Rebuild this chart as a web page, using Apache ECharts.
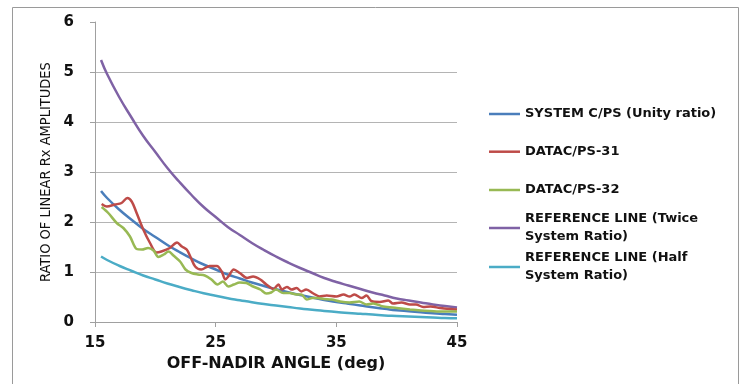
<!DOCTYPE html>
<html>
<head>
<meta charset="utf-8">
<script src="https://cdn.jsdelivr.net/npm/echarts@6/dist/echarts.min.js"></script>
<style>html,body{margin:0;padding:0;background:#fff;}#c{width:747px;height:384px;}</style>
</head>
<body>
<div id="c"></div>
<script>
const angles = [15.5,16,17,18,19,20,21,22,23,24,25,26,27,28,29,30,31,32,33,34,35,36,37,38,39,40,41,42,43,44,45];
const systemRatio = [2.62,2.48,2.25,2.05,1.86,1.70,1.54,1.40,1.27,1.15,1.05,0.95,0.87,0.79,0.72,0.655,0.595,0.54,0.49,0.44,0.40,0.365,0.33,0.295,0.265,0.235,0.215,0.195,0.175,0.16,0.145];
const twiceRatio = [5.24,4.96,4.50,4.10,3.72,3.40,3.08,2.80,2.54,2.30,2.10,1.90,1.74,1.58,1.44,1.31,1.19,1.08,0.98,0.88,0.80,0.73,0.66,0.59,0.53,0.47,0.43,0.39,0.35,0.32,0.29];
const halfRatio = [1.31,1.24,1.125,1.025,0.93,0.85,0.77,0.70,0.635,0.575,0.525,0.475,0.435,0.395,0.36,0.33,0.30,0.27,0.245,0.22,0.20,0.18,0.165,0.15,0.13,0.12,0.11,0.10,0.09,0.08,0.075];
const ps31Angles = [15.55,15.97,16.66,17.2,17.68,18.04,18.45,19.0,19.56,20.1,20.5,21.2,21.8,22.2,22.6,22.9,23.3,23.8,24.5,25.1,25.5,25.8,26.05,26.5,27.0,27.6,28.1,28.7,29.2,29.8,30.2,30.5,30.9,31.3,31.7,32.1,32.5,33.1,33.6,34.2,35.0,35.6,36.1,36.5,37.1,37.5,37.9,38.6,39.3,39.7,40.4,41.1,41.6,42.2,42.8,43.6,44.4,45];
const ps31Ratio = [2.36,2.31,2.35,2.38,2.48,2.41,2.18,1.85,1.58,1.39,1.41,1.48,1.59,1.51,1.45,1.31,1.11,1.05,1.12,1.12,1.01,0.85,0.91,1.05,0.98,0.88,0.91,0.85,0.75,0.66,0.75,0.65,0.70,0.65,0.68,0.61,0.65,0.57,0.51,0.53,0.51,0.55,0.51,0.55,0.48,0.53,0.42,0.40,0.43,0.37,0.39,0.35,0.35,0.30,0.31,0.28,0.26,0.25];
const ps32Angles = [15.55,16.1,16.8,17.35,17.9,18.45,18.9,19.4,19.85,20.25,20.7,21.1,21.5,22.05,22.5,23.0,23.55,24.1,24.65,25.15,25.6,26.05,26.5,27.0,27.55,28.1,28.7,29.2,29.6,30.0,30.6,31.15,31.7,32.1,32.55,33.0,33.4,33.95,34.6,35.3,36.1,36.9,37.5,38.05,38.9,40.0,41.1,42.0,42.8,43.9,45];
const ps32Ratio = [2.30,2.18,1.98,1.88,1.71,1.46,1.45,1.48,1.43,1.30,1.35,1.41,1.33,1.21,1.05,0.98,0.95,0.93,0.85,0.75,0.81,0.71,0.75,0.79,0.78,0.71,0.65,0.57,0.59,0.65,0.58,0.58,0.55,0.55,0.45,0.48,0.48,0.46,0.45,0.41,0.39,0.41,0.35,0.37,0.31,0.28,0.25,0.23,0.22,0.21,0.21];
const seriesNames = ['SYSTEM C/PS (Unity ratio)','DATAC/PS-31','DATAC/PS-32','REFERENCE LINE (Twice System Ratio)','REFERENCE LINE (Half System Ratio)'];
const legendLabels = ['SYSTEM C/PS (Unity ratio)','DATAC/PS-31','DATAC/PS-32','REFERENCE LINE (Twice\nSystem Ratio)','REFERENCE LINE (Half\nSystem Ratio)'];
const colors = ['#4a7ebb','#be4b48','#98b954','#7f62a5','#4bacc6'];

function pairs(xs, ys){ return xs.map((x,i)=>[x, ys[i]]); }

const chart = echarts.init(document.getElementById('c'), null, {renderer:'canvas'});
const font = 'DejaVu Sans';
const legendTops = [105, 142.7, 181, 201, 240];
const legends = seriesNames.map((n,i)=>{
  const two = legendLabels[i].indexOf('\n') >= 0;
  return {
    left: 489, top: legendTops[i], padding: 0, orient: 'vertical',
    itemWidth: 31, itemHeight: 2.5, itemGap: 0, icon: 'rect',
    data: [n], selectedMode: false,
    formatter: () => legendLabels[i],
    textStyle: {fontFamily: font, fontWeight: 'bold', fontSize: 13, color: '#111', lineHeight: 18, padding: two ? [18,0,0,0] : 0}
  };
});
const lineData = [pairs(angles, systemRatio), pairs(ps31Angles, ps31Ratio), pairs(ps32Angles, ps32Ratio), pairs(angles, twiceRatio), pairs(angles, halfRatio)];
chart.setOption({
  animation: false,
  color: colors,
  grid: {left: 95, right: 290, top: 22, bottom: 62, containLabel: false},
  graphic: [{type:'rect', shape:{x:12.5, y:7.5, width:726, height:400}, style:{fill:'none', stroke:'#9a9a9a', lineWidth:1}, silent:true}],
  legend: legends,
  xAxis: {
    type: 'value', min: 15, max: 45, interval: 10,
    name: 'OFF-NADIR ANGLE (deg)', nameLocation: 'middle', nameGap: 33,
    nameTextStyle: {fontFamily: font, fontWeight: 'bold', fontSize: 16, color: '#111'},
    axisLine: {lineStyle: {color: '#a0a0a0', width: 1}},
    axisTick: {show: true, length: 5, lineStyle: {color: '#a0a0a0'}},
    axisLabel: {margin: 14, fontFamily: font, fontWeight: 'bold', fontSize: 15, color: '#111'},
    splitLine: {show: false}
  },
  yAxis: {
    type: 'value', min: 0, max: 6, interval: 1,
    name: 'RATIO OF LINEAR Rx AMPLITUDES', nameLocation: 'middle', nameGap: 41, nameRotate: 90,
    nameTextStyle: {fontFamily: 'Liberation Sans Narrow, DejaVu Sans Condensed, Liberation Sans', fontWeight: 'normal', fontSize: 14.5, color: '#111'},
    axisLine: {show: true, lineStyle: {color: '#a0a0a0', width: 1}},
    axisTick: {show: true, length: 5, lineStyle: {color: '#a0a0a0'}},
    axisLabel: {margin: 21, fontFamily: font, fontWeight: 'bold', fontSize: 15, color: '#111'},
    splitLine: {show: true, lineStyle: {color: ['#b4b4b4','#b4b4b4','#b4b4b4','#b4b4b4','#b4b4b4','#b4b4b4','rgba(0,0,0,0)'], width: 1}}
  },
  series: seriesNames.map((n,i)=>({
    name: n, type: 'line', data: lineData[i], symbol: 'none',
    smooth: (i===1||i===2) ? 0.3 : true,
    lineStyle: {width: 2.5, color: colors[i]},
    z: [3,4,4,2,2][i]
  }))
});
</script>
</body>
</html>
